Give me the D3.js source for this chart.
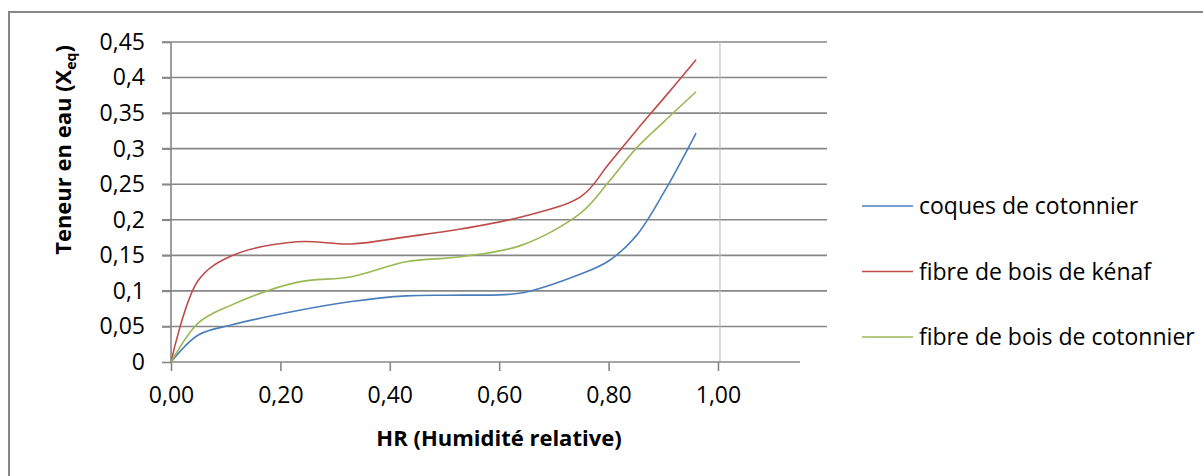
<!DOCTYPE html>
<html>
<head>
<meta charset="utf-8">
<script src="https://cdn.jsdelivr.net/npm/d3@7"></script>
<style>
  body { margin: 0; background: #fff; }
  svg { display: block; font-family: "Open Sans", sans-serif; }
</style>
</head>
<body>
<svg id="chart" width="1203" height="476"></svg>
<script>
// --- data ---
const hr = [0, 0.05, 0.11, 0.23, 0.33, 0.43, 0.53, 0.64, 0.75, 0.80, 0.85, 0.90, 0.96];
const coques = [0, 0.038, 0.052, 0.072, 0.085, 0.093, 0.094, 0.097, 0.124, 0.142, 0.177, 0.237, 0.322];
const kenaf = [0, 0.115, 0.149, 0.169, 0.166, 0.176, 0.187, 0.204, 0.233, 0.278, 0.325, 0.370, 0.425];
const cotonnier = [0, 0.055, 0.080, 0.112, 0.120, 0.141, 0.148, 0.164, 0.210, 0.253, 0.300, 0.337, 0.380];
const seriesNames = ["coques de cotonnier", "fibre de bois de kénaf", "fibre de bois de cotonnier"];
const seriesColors = ["#4a7ebb", "#be4b48", "#98b954"];
const yTicks = [0, 0.05, 0.1, 0.15, 0.2, 0.25, 0.3, 0.35, 0.4, 0.45];
const xTicks = [0, 0.2, 0.4, 0.6, 0.8, 1.0];

const series = [coques, kenaf, cotonnier].map((vals, i) => ({
  name: seriesNames[i], color: seriesColors[i],
  pts: hr.map((h, j) => [h, vals[j]])
}));

const svg = d3.select("#chart");
const grid = "#878787";
const mLeft = 171, mRight = 800, mTop = 42, mBottom = 362, gridEnd = 827;

const x = d3.scaleLinear().domain([0, 1.15]).range([mLeft, mRight]);
const y = d3.scaleLinear().domain([0, 0.45]).range([mBottom, mTop]);
const comma = (s) => s.replace(".", ",");

// outer frame (runs off the right and bottom edges like the source)
svg.append("rect").attr("x", 9).attr("y", 12).attr("width", 1210).attr("height", 480)
  .attr("fill", "none").attr("stroke", grid).attr("stroke-width", 2);

// horizontal gridlines incl. tick stubs
svg.append("g").selectAll("line").data(yTicks.slice(1)).join("line")
  .attr("x1", mLeft - 9).attr("x2", gridEnd)
  .attr("y1", (d) => y(d)).attr("y2", (d) => y(d))
  .attr("stroke", grid).attr("stroke-width", 1.6);

// light vertical marker near HR = 1
svg.append("line").attr("x1", x(1) + 2).attr("x2", x(1) + 2).attr("y1", y(0.45)).attr("y2", y(0))
  .attr("stroke", "#bfbfbf").attr("stroke-width", 1.2);

// y axis
const yAxis = svg.append("g").attr("transform", `translate(${mLeft},0)`)
  .call(d3.axisLeft(y).tickValues(yTicks).tickSize(9).tickPadding(17)
    .tickFormat((d) => comma(d3.format("")(+d.toFixed(2)))));
// x axis
const xAxis = svg.append("g").attr("transform", `translate(0,${mBottom})`)
  .call(d3.axisBottom(x).tickValues(xTicks).tickSize(9).tickPadding(16)
    .tickFormat((d) => comma(d3.format(".2f")(d))));
[yAxis, xAxis].forEach((g) => {
  g.select(".domain").attr("stroke", grid).attr("stroke-width", 1.6);
  g.selectAll(".tick line").attr("stroke", grid).attr("stroke-width", 1.6);
  g.selectAll("text").attr("font-family", "'Open Sans', sans-serif").attr("font-size", 23).attr("fill", "#000");
});
yAxis.select(".domain").attr("d", `M0,${mBottom}V${mTop}`);
xAxis.select(".domain").attr("d", `M${mLeft},0H${mRight}`);

// curves
const line = d3.line().x((d) => x(d[0])).y((d) => y(d[1])).curve(d3.curveCatmullRom.alpha(0.5));
svg.append("g").selectAll("path").data(series).join("path")
  .attr("d", (d) => line(d.pts)).attr("fill", "none")
  .attr("stroke", (d) => d.color).attr("stroke-width", 1.6);

// axis titles
svg.append("text").attr("x", (mLeft + gridEnd) / 2).attr("y", 446).attr("text-anchor", "middle")
  .attr("font-size", 22).attr("font-weight", 700).text("HR (Humidité relative)");
const yt = svg.append("text").attr("transform", "translate(71,150) rotate(-90)")
  .attr("text-anchor", "middle").attr("font-size", 22).attr("font-weight", 700);
yt.append("tspan").text("Teneur en eau (X");
yt.append("tspan").attr("font-size", 14).attr("dy", 5).text("eq");
yt.append("tspan").attr("dy", -5).text(")");

// legend
const lg = svg.append("g").selectAll("g").data(series).join("g")
  .attr("transform", (d, i) => `translate(862,${206 + i * 65.5})`);
lg.append("line").attr("x2", 51).attr("stroke", (d) => d.color).attr("stroke-width", 1.6);
lg.append("text").attr("x", 57).attr("dy", "0.35em").attr("font-size", 23).text((d) => d.name);
</script>
</body>
</html>
